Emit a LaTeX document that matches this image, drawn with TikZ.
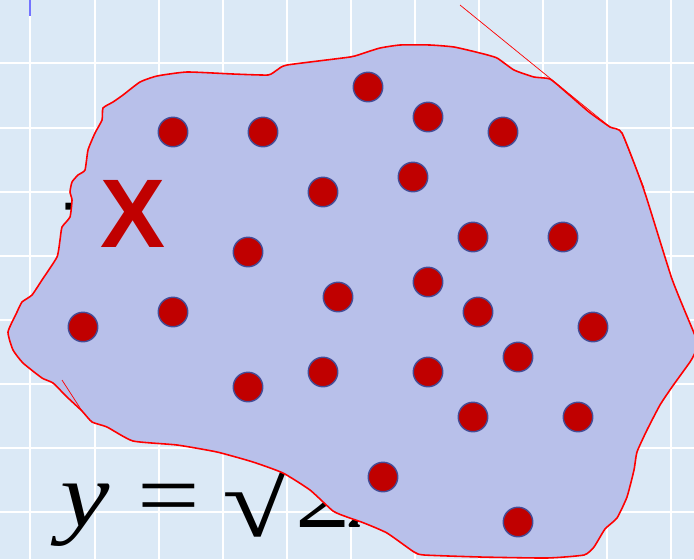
\documentclass[tikz,border=0pt]{standalone}
\usepackage{fontspec}
\newfontfamily\serifeq{Liberation Serif}
\newfontfamily\grandx{Liberation Sans}
\definecolor{fond}{RGB}{219,233,246}
\definecolor{zone}{RGB}{184,192,234}
\definecolor{rouge}{RGB}{192,0,0}
\definecolor{bord}{RGB}{68,76,150}
\tikzset{
  point/.style={circle, fill=rouge, draw=bord, line width=0.8pt, minimum size=0.59cm, inner sep=0pt},
  blob/.style={fill=zone, draw=red, line width=0.9pt},
  trait/.style={red, line width=0.4pt},
  formule/.style={inner sep=0pt, font=\serifeq\fontsize{52.7}{60}\selectfont}
}
\begin{document}
\begin{tikzpicture}[x=0.02cm,y=-0.02cm]
    \useasboundingbox (0,0) rectangle (694,559);
    % Fond quadrillé
    \fill[fond] (0,0) rectangle (694,559);
    \foreach \gx in {30,95,159,223,287,351,415,479,543,607,671}
        \draw[white, line width=1.5pt] (\gx,0) -- (\gx,559);
    \foreach \gy in {63,128,192,256,320,384,448,512}
        \draw[white, line width=1.5pt] (0,\gy) -- (694,\gy);
    \draw[blue!55!white, line width=0.8pt] (30,0) -- (30,16);

    % Texte sous la tache
    \node[formule, anchor=base west] (eqy) at (60,526) {\scalebox{1.2}[1]{\textit{y} =}};
    \node[formule, anchor=south west] (racine) at (222,538) {\scalebox{1.37}[1.08]{√}};
    \node[formule, anchor=base west] (deux) at (295,527) {\scalebox{1.2}[1]{2\textit{x}}};
    \node[formule, anchor=base west] (moins) at (62,228) {-};

    % La tache
    \begin{scope}
    \clip (0,0) rectangle (694,559);
    \draw[blob] plot[smooth cycle, tension=0.3] coordinates {
        (350,57) (364,53) (380,48) (400,45) (430,45) (454,47) (480,53) (497,58) (514,70)
        (534,77) (550,79) (567,93) (589,112) (610,127) (622,133) (644,190) (672,279)
        (694,333) (698,345) (694,355) (690,362) (672,387) (660,405) (647,430) (637,452)
        (634,470) (627,497) (617,518) (605,529) (594,547) (584,555) (547,558) (480,557)
        (424,555) (414,552) (387,533) (364,523) (347,517) (333,511) (310,490) (283,473)
        (253,462) (217,452) (177,445) (133,441) (107,427) (92,422) (82,411) (67,397)
        (53,383) (42,378) (23,363) (13,350) (8,332) (17,312) (22,302) (32,295) (42,280)
        (57,257) (60,240) (62,227) (70,217) (72,200) (70,192) (72,182) (78,175) (85,170)
        (88,150) (95,133) (102,120) (103,108) (113,102) (123,95) (140,82) (157,76)
        (187,72) (233,74) (268,75) (277,70) (287,65)};
    \end{scope}
    \draw[trait] (460,5) -- (610,127);
    \draw[trait] (622,133) -- (644,188);
    \draw[trait] (62,380) -- (82,411);

    % Le X
    \node[anchor=base west, inner sep=0pt, text=rouge, font=\grandx\bfseries\fontsize{55.5}{60}\selectfont] (lex) at (100,247) {X};

    % Les points
    \foreach \px/\py [count=\i] in {173/132, 263/132, 368/87, 428/117, 503/132, 413/177,
        323/192, 248/252, 473/237, 563/237, 338/297, 428/282, 478/312, 593/327, 83/327,
        173/312, 518/357, 248/387, 323/372, 428/372, 473/417, 578/417, 383/477, 518/522}
        \node[point] (p\i) at (\px,\py) {};
\end{tikzpicture}
\end{document}
